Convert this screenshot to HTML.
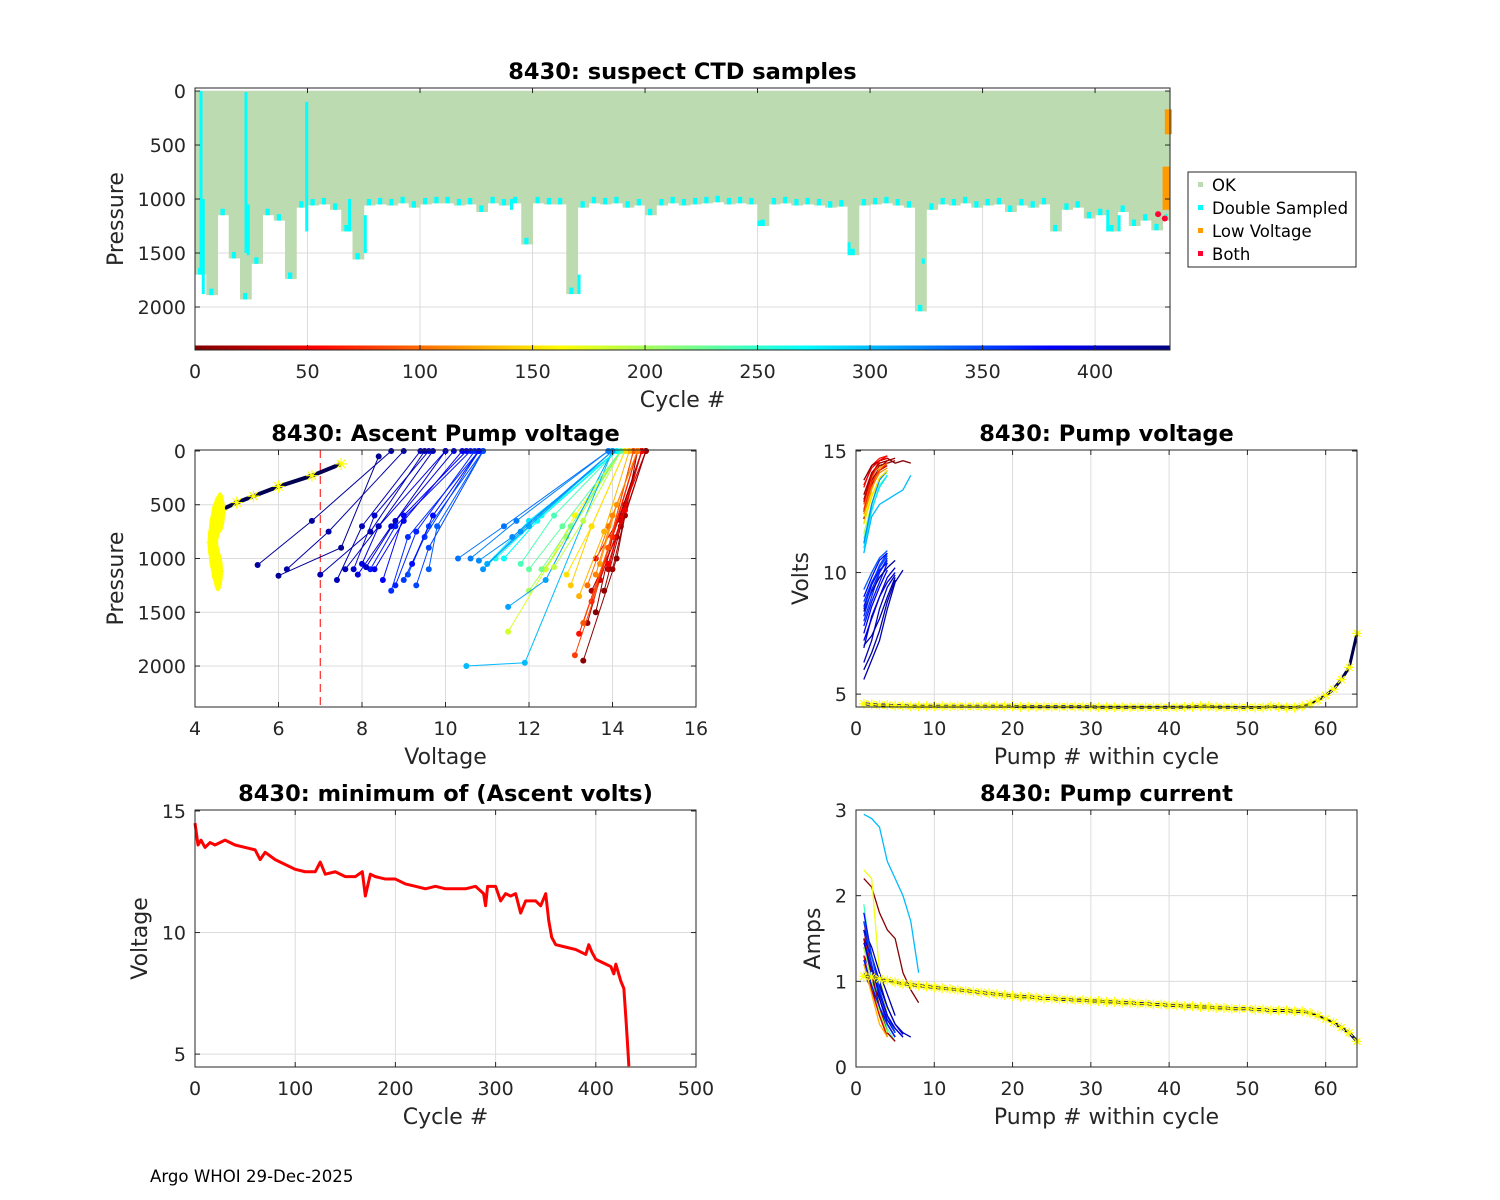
<!DOCTYPE html>
<html><head><meta charset="utf-8">
<style>
html,body{margin:0;padding:0;background:#fff;}
svg{display:block;font-family:"DejaVu Sans","Liberation Sans",sans-serif;}
.t{font-size:19px;fill:#262626;}
.ttl{font-size:22.5px;font-weight:bold;fill:#000;}
.lab{font-size:22px;fill:#262626;}
</style></head>
<body>
<svg id="fig" width="1500" height="1200" viewBox="0 0 1500 1200" xmlns="http://www.w3.org/2000/svg">
<text x="150" y="1182" font-size="16.6" fill="#000">Argo WHOI 29-Dec-2025</text>
</svg>
<script>
// ---------- DATA ----------
const topGroupDepth=[1700,1890,1150,1550,1930,1600,1150,1200,1740,1080,
 1060,1050,1100,1300,1560,1060,1050,1060,1040,1080,
 1050,1040,1040,1060,1050,1120,1040,1060,1040,1420,
 1040,1050,1050,1880,1080,1040,1050,1040,1080,1060,
 1150,1060,1040,1060,1050,1040,1030,1050,1040,1050,
 1250,1050,1040,1060,1050,1060,1080,1070,1520,1060,
 1050,1040,1060,1080,2040,1100,1050,1060,1040,1080,
 1060,1050,1120,1060,1080,1050,1300,1100,1080,1180,
 1150,1300,1120,1250,1200,1290,1200];
const dsCycles=[2,3,22,23,49,68,75,140,170,250,290,323,405,410];
const dsTop=[0,1000,10,1050,100,1000,1150,1000,1700,1200,1400,1550,1100,1150];
const dsBottom=[1700,1880,1500,1520,1300,1300,1500,1100,1880,1250,1520,1600,1300,1300];
const lvCycles=[430,431];
const lvTop=[700,170];
const lvBottom=[1100,400];
const bothCycles=[428,431];
const bothP=[1140,1180];
const topXTicks=[0,50,100,150,200,250,300,350,400];
const topYTicks=[0,500,1000,1500,2000];

const profCycle=[5,12,20,30,45,60,80,100,120,140,160,180,200,220,240,260,280,300,310,320,330,340,350,360,370,380,390,400,410,415,420,425,
 2,8,15,35,50,70,90,110,130,150,190,230,270,305,315,325,345,355,365,375,385,395,402,408,412];
const profV=[[13.3,14.1,14.6],[13.4,13.9,14.5],[13.5,14.1,14.7],[13.9,14.3,14.8],[13.6,14.2,14.7],[13.2,13.9,14.6],[13.1,13.7,14.5],[13.4,13.9,14.6],[13.7,14.1,14.6],[13.0,13.5,14.3],[12.4,13.1,14.2],[11.5,12.4,14.2],[12.0,12.9,14.2],[12.3,13.0,14.2],[11.8,12.6,14.1],[11.2,12.3,14.1],[11.0,12.0,14.1],[10.5,11.9,14.0],[11.5,12.4,14.0],[10.8,11.6,14.0],[10.3,11.4,13.9],[9.6,9.8,10.9],[9.3,9.6,10.9],[8.7,9.1,10.8],[8.2,8.8,10.6],[8.5,9.0,10.5],[8.0,8.4,10.0],[7.8,8.3,9.6],[7.4,8.0,9.4],[6.2,7.2,9.0],[5.5,6.8,8.7],[6.0,7.5,8.4],
 [13.6,14.0,14.7],[13.8,14.2,14.8],[14.0,14.3,14.8],[13.7,14.2,14.7],[13.9,14.3,14.7],[13.5,14.0,14.6],[13.3,13.9,14.5],[13.6,14.0,14.6],[13.2,13.8,14.4],[12.9,13.5,14.3],[12.6,13.3,14.2],[12.0,12.8,14.2],[11.4,12.2,14.1],[11.0,12.0,14.0],[10.9,11.8,14.0],[10.6,11.7,13.9],[9.1,9.6,10.9],[9.0,9.5,10.8],[8.8,9.3,10.7],[9.2,9.7,10.8],[8.3,9.0,10.4],[7.9,8.7,10.2],[8.1,8.8,10.0],[7.6,8.4,9.7],[7.0,8.2,9.5]];
const profP=[[1950,1000,0],[1600,900,0],[1300,800,0],[1100,500,0],[1000,600,0],[1700,900,0],[1900,1200,0],[1250,700,0],[1050,500,0],[1250,700,0],[1100,600,0],[1680,1100,0],[1300,800,0],[1100,700,0],[1050,600,0],[1000,600,0],[1050,650,0],[2000,1970,0],[1450,1200,0],[1020,800,0],[1000,700,0],[1100,700,0],[1250,900,0],[1300,800,0],[1100,700,0],[1200,600,0],[1050,700,0],[1100,600,0],[1200,700,0],[1100,750,0],[1060,650,0],[1160,900,50],
 [1500,800,0],[1300,700,0],[1100,600,0],[1200,650,0],[1050,550,0],[1400,800,0],[1600,900,0],[1150,600,0],[1350,750,0],[1150,700,0],[1080,650,0],[1100,700,0],[1000,650,0],[1050,700,0],[1100,750,0],[1000,650,0],[1150,700,0],[1200,800,0],[1250,750,0],[1050,600,0],[1100,650,0],[1150,700,0],[1080,650,0],[1100,700,0],[1150,750,0]];
const lastProfV=[4.55,4.5,4.45,4.42,4.45,4.5,4.55,4.6,4.62,5.0,5.4,6.0,6.8,7.5];
const lastProfP=[1120,1050,950,850,750,650,600,570,550,480,420,330,230,120];
const mlXTicks=[4,6,8,10,12,14,16];
const mlYTicks=[0,500,1000,1500,2000];
const voltLimit=7;

const pvCycle=[3,10,25,60,90,130,170,200,240,280,300,320,350,360,370,380,390,400,405,410,415,420,425,
 5,15,40,50,75,110,150,340,355,365,375,395];
const pvVals=[[13.0,14.0,14.4,14.5,14.6],[12.5,13.8,14.3,14.6,14.7],[12.2,13.6,14.2,14.4],[13.5,14.4,14.7,14.8],[12.8,13.9,14.5,14.6],[12.0,13.4,14.3,14.5],[12.3,13.2,13.8,14.2],[11.6,12.8,13.9,14.1],[11.4,12.5,13.6,14.0],[11.0,12.6,13.5,14.0],[10.8,12.3,12.8,13.0,13.2,13.4,14.0],[11.2,12.8,13.8,14.2],[8.5,9.5,10.3,10.8],[8.0,9.0,10.0,10.6],[7.8,8.8,9.6,10.4],[9.0,9.8,10.5,10.8],[7.5,8.6,9.4,10.1],[6.9,8.2,9.0,9.6,10.0],[6.3,7.2,8.5,9.4,9.9],[5.6,6.4,7.2,8.5,9.6,10.1],[7.0,7.4,8.1,9.0,9.8],[6.0,6.7,7.6,8.8,9.7],[8.4,9.2,9.8,10.2,10.5],
 [13.8,14.4,14.6,14.7,14.5,14.6,14.5],[13.2,14.1,14.5,14.6],[12.9,14.0,14.6,14.7],[13.6,14.3,14.6,14.8],[12.6,13.7,14.2,14.5],[12.4,13.5,14.1,14.3],[12.0,13.1,13.9,14.2],[9.3,10.0,10.6,10.9],[8.8,9.6,10.2,10.7],[8.2,9.3,10.0,10.5],[8.6,9.5,10.1,10.4],[7.2,8.1,9.0,9.8,10.2]];
const lastVolts=[4.6,4.58,4.55,4.55,4.52,4.52,4.5,4.5,4.5,4.5,4.5,4.5,4.5,4.5,4.5,4.5,4.5,4.5,4.5,4.5,4.48,4.48,4.48,4.48,4.48,4.48,4.48,4.48,4.48,4.48,4.46,4.46,4.46,4.46,4.46,4.46,4.46,4.46,4.46,4.46,4.46,4.47,4.48,4.5,4.5,4.47,4.46,4.46,4.45,4.45,4.45,4.45,4.5,4.47,4.45,4.45,4.5,4.6,4.75,4.95,5.2,5.6,6.1,7.5];
const mrXTicks=[0,10,20,30,40,50,60];
const mrYTicks=[5,10,15];

const minCycle=[0,3,6,10,15,20,30,40,50,60,65,70,80,90,100,110,120,125,128,130,140,150,160,167,170,175,180,190,200,210,220,230,240,250,260,270,280,288,290,292,300,305,310,315,320,325,330,340,345,350,353,356,360,370,380,390,393,396,400,405,410,415,418,420,425,428,430,432,433];
const minVolt=[14.5,13.6,13.8,13.5,13.7,13.6,13.8,13.6,13.5,13.4,13.0,13.3,13.0,12.8,12.6,12.5,12.5,12.9,12.6,12.4,12.5,12.3,12.3,12.5,11.5,12.4,12.3,12.2,12.2,12.0,11.9,11.8,11.9,11.8,11.8,11.8,11.9,11.6,11.1,11.9,11.9,11.3,11.6,11.5,11.6,10.8,11.3,11.3,11.1,11.6,10.5,9.8,9.5,9.4,9.3,9.1,9.5,9.2,8.9,8.8,8.7,8.6,8.3,8.7,8.0,7.7,6.5,5.2,4.5];
const blXTicks=[0,100,200,300,400,500];
const blYTicks=[5,10,15];

const pcCycle=[3,20,60,100,170,240,300,320,360,380,390,400,405,410,415,420,10,40,130,200,350,370,395];
const pcVals=[[2.2,2.1,1.8,1.6,1.5,1.1,0.9,0.75],[1.7,1.2,0.8,0.5,0.35],[1.6,1.1,0.6,0.4,0.3],[1.4,1.0,0.6,0.35],[2.3,2.2,1.1,0.6,0.4],[1.9,1.2,0.7,0.45,0.3],[2.95,2.9,2.8,2.4,2.2,2.0,1.7,1.1],[1.5,1.0,0.7,0.4],[1.6,1.2,0.8,0.5,0.35],[1.8,1.3,0.9,0.6,0.4],[1.5,1.3,1.0,0.7,0.5,0.38],[1.4,1.1,0.9,0.6,0.45,0.35],[1.2,1.0,0.8,0.55,0.4],[1.3,1.1,0.95,0.7,0.5,0.4,0.35],[1.6,1.4,1.1,0.85,0.6],[1.1,0.9,0.7,0.5,0.35],
 [1.5,1.1,0.7,0.4,0.3],[1.3,0.9,0.6,0.35],[1.2,0.85,0.5,0.35],[1.4,1.0,0.65,0.4],[1.7,1.3,0.9,0.6,0.4],[1.25,0.95,0.7,0.5,0.35],[1.45,1.15,0.85,0.6,0.45,0.35]];
const lastCurrent=[1.06,1.05,1.03,1.01,0.99,0.97,0.96,0.95,0.94,0.93,0.92,0.91,0.9,0.89,0.88,0.87,0.86,0.85,0.84,0.83,0.82,0.82,0.81,0.8,0.8,0.79,0.79,0.78,0.78,0.77,0.77,0.76,0.76,0.75,0.75,0.74,0.74,0.73,0.73,0.72,0.72,0.71,0.71,0.7,0.7,0.69,0.69,0.68,0.68,0.68,0.67,0.67,0.66,0.66,0.66,0.65,0.65,0.63,0.6,0.56,0.52,0.46,0.4,0.3];
const brXTicks=[0,10,20,30,40,50,60];
const brYTicks=[0,1,2,3];

// ---------- HELPERS ----------
const svg=document.getElementById('fig');
const NS='http://www.w3.org/2000/svg';
function mk(tag,attrs,parent){const e=document.createElementNS(NS,tag);for(const k in attrs)e.setAttribute(k,attrs[k]);(parent||svg).appendChild(e);return e;}
function jet(t){t=Math.max(0,Math.min(1,t));const r=Math.min(4*t-1.5,-4*t+4.5),g=Math.min(4*t-0.5,-4*t+3.5),b=Math.min(4*t+0.5,-4*t+2.5);const c=v=>Math.round(255*Math.max(0,Math.min(1,v)));return `rgb(${c(r)},${c(g)},${c(b)})`;}
const MAXC=433;
function cyc(c){return jet(1-c/MAXC);}
function axes(name,x0,y0,w,h,xmin,xmax,ymin,ymax,rev){
  const g=mk('g',{});
  
  
  const sx=v=>x0+(v-xmin)/(xmax-xmin)*w;
  const sy=rev?(v=>y0+(v-ymin)/(ymax-ymin)*h):(v=>y0+h-(v-ymin)/(ymax-ymin)*h);
  return {g,sx,sy,x0,y0,w,h};
}
function frame(A,xt,yt,xlab,ylab,title,nameBase){
  const {g,sx,sy,x0,y0,w,h}=A;
  xt.forEach(v=>{const x=sx(v);if(x>x0+1&&x<x0+w-1)mk('line',{x1:x,y1:y0,x2:x,y2:y0+h,stroke:'#dcdcdc','stroke-width':1},g);});
  yt.forEach(v=>{const y=sy(v);if(y>y0+1&&y<y0+h-1)mk('line',{x1:x0,y1:y,x2:x0+w,y2:y,stroke:'#dcdcdc','stroke-width':1},g);});
  return function(){
    const f=mk('g',{});
    
    
    mk('rect',{x:x0,y:y0,width:w,height:h,fill:'none',stroke:'#262626','stroke-width':1},f);
    xt.forEach(v=>{const x=sx(v);mk('line',{x1:x,y1:y0+h,x2:x,y2:y0+h-5,stroke:'#262626'},f);mk('line',{x1:x,y1:y0,x2:x,y2:y0+5,stroke:'#262626'},f);
      const t=mk('text',{x:x,y:y0+h+28,'text-anchor':'middle',class:'t'},f);t.textContent=v;
      
      });
    yt.forEach(v=>{const y=sy(v);mk('line',{x1:x0,y1:y,x2:x0+5,y2:y,stroke:'#262626'},f);mk('line',{x1:x0+w,y1:y,x2:x0+w-5,y2:y,stroke:'#262626'},f);
      const t=mk('text',{x:x0-9,y:y+7,'text-anchor':'end',class:'t'},f);t.textContent=v;
      
      });
    const xl=mk('text',{x:x0+w/2,y:y0+h+57,'text-anchor':'middle',class:'lab'},f);xl.textContent=xlab;
    
    
    const ylx=x0-(String(yt[yt.length-1]).length*12+24);
    const yl=mk('text',{x:ylx,y:y0+h/2,'text-anchor':'middle',class:'lab',transform:`rotate(-90 ${ylx} ${y0+h/2})`},f);yl.textContent=ylab;
    
    
    const tt=mk('text',{x:x0+w/2,y:y0-9,'text-anchor':'middle',class:'ttl'},f);tt.textContent=title;
    
    
  };
}
function star(g,x,y,col,s){s=s||5;mk('path',{d:`M${x-s},${y}H${x+s}M${x},${y-s}V${y+s}M${x-s*0.7},${y-s*0.7}L${x+s*0.7},${y+s*0.7}M${x-s*0.7},${y+s*0.7}L${x+s*0.7},${y-s*0.7}`,stroke:col,'stroke-width':1.2,fill:'none'},g);}

// ---------- TOP PANEL ----------
(function(){
  const A=axes('ctd-samples-plot',195,88,975,262,0,433.3,-28,2398,true);
  const fin=frame(A,topXTicks,topYTicks,'Cycle #','Pressure','8430: suspect CTD samples','ctd');
  const {g,sx,sy}=A;
  topGroupDepth.forEach((d,i)=>{
    const c0=i*5,c1=Math.min(i*5+5,433.3);
    const r=mk('rect',{x:sx(c0),y:sy(0),width:sx(c1)-sx(c0)+0.5,height:sy(d)-sy(0),fill:'#bddbb0'},g);
    
    
    const cr=mk('rect',{x:sx(c0)+3,y:sy(d-60),width:Math.max(2,sx(c1)-sx(c0)-7),height:sy(d)-sy(d-60),fill:'#00ffff'},g);
    
    
  });
  dsCycles.forEach((c,i)=>{
    const r=mk('rect',{x:sx(c),y:sy(dsTop[i]),width:3,height:sy(dsBottom[i])-sy(dsTop[i]),fill:'#00ffff'},g);
    
    
  });
  lvCycles.forEach((c,i)=>{
    const r=mk('rect',{x:sx(c),y:sy(lvTop[i]),width:7,height:sy(lvBottom[i])-sy(lvTop[i]),fill:'#ff9a00'},g);
    
    
  });
  bothCycles.forEach((c,i)=>{
    const r=mk('circle',{cx:sx(c),cy:sy(bothP[i]),r:3,fill:'#ff0033'},g);
    
    
  });
  for(let c=0;c<433;c+=1){mk('line',{x1:sx(c),y1:348,x2:sx(c+1.2),y2:348,stroke:cyc(c),'stroke-width':5},g);}
  fin();
  const L=mk('g',{});
  
  
  mk('rect',{x:1188,y:172,width:168,height:95,fill:'#fff',stroke:'#262626'},L);
  [['OK','#bddbb0'],['Double Sampled','#00ffff'],['Low Voltage','#ff9a00'],['Both','#ff0033']].forEach((e,i)=>{
    const y=185+i*23;
    const eg=mk('g',{},L);
    
    
    mk('rect',{x:1198,y:y-3,width:5,height:5,fill:e[1]},eg);
    const t=mk('text',{x:1212,y:y+6,'font-size':'16.5px',fill:'#000'},eg);t.textContent=e[0];
  });
})();

// ---------- MIDDLE LEFT ----------
(function(){
  const A=axes('ascent-voltage-plot',195,450,501,257,4,16,-9,2381,true);
  const fin=frame(A,mlXTicks,mlYTicks,'Voltage','Pressure','8430: Ascent Pump voltage','ascent');
  const {g,sx,sy}=A;
  mk('line',{x1:sx(voltLimit),y1:450,x2:sx(voltLimit),y2:707,stroke:'#ff0000','stroke-dasharray':'8,5','stroke-width':1},g);
  profCycle.forEach((c,i)=>{
    const col=cyc(c);
    const pts=profV[i].map((v,j)=>sx(v)+','+sy(profP[i][j])).join(' ');
    const pl=mk('polyline',{points:pts,fill:'none',stroke:col,'stroke-width':1},g);
    
    
    profV[i].forEach((v,j)=>{mk('circle',{cx:sx(v),cy:sy(profP[i][j]),r:3,fill:col},g);});
  });
  const lp=mk('polyline',{points:lastProfV.map((v,j)=>sx(v)+','+sy(lastProfP[j])).join(' '),fill:'none',stroke:'#000050','stroke-width':4},g);
  
  
  lastProfV.forEach((v,j)=>{if(j<8){mk('ellipse',{cx:sx(v),cy:sy(lastProfP[j]),rx:5,ry:20,fill:'#ffff00'},g);}star(g,sx(v),sy(lastProfP[j]),'#ffff00',6);});
  fin();
})();

// ---------- MIDDLE RIGHT ----------
(function(){
  const A=axes('pump-voltage-plot',856,450,501,257,0,64,4.47,15.04,false);
  const fin=frame(A,mrXTicks,mrYTicks,'Pump # within cycle','Volts','8430: Pump voltage','pumpv');
  const {g,sx,sy}=A;
  pvCycle.forEach((c,i)=>{
    const pl=mk('polyline',{points:pvVals[i].map((v,j)=>sx(j+1)+','+sy(v)).join(' '),fill:'none',stroke:cyc(c),'stroke-width':1.3},g);
    
    
  });
  const lp=mk('polyline',{points:lastVolts.map((v,j)=>sx(j+1)+','+sy(v)).join(' '),fill:'none',stroke:'#000050','stroke-width':3},g);
  
  
  lastVolts.forEach((v,j)=>star(g,sx(j+1),sy(v),'#ffff00',5));
  fin();
})();

// ---------- BOTTOM LEFT ----------
(function(){
  const A=axes('min-voltage-plot',195,810,501,257,0,500,4.47,15.04,false);
  const fin=frame(A,blXTicks,blYTicks,'Cycle #','Voltage','8430: minimum of (Ascent volts)','minv');
  const {g,sx,sy}=A;
  const pl=mk('polyline',{points:minCycle.map((c,j)=>sx(c)+','+sy(minVolt[j])).join(' '),fill:'none',stroke:'#ff0000','stroke-width':3,'stroke-linejoin':'round'},g);
  
  
  fin();
})();

// ---------- BOTTOM RIGHT ----------
(function(){
  const A=axes('pump-current-plot',856,810,501,257,0,64,0,3,false);
  const fin=frame(A,brXTicks,brYTicks,'Pump # within cycle','Amps','8430: Pump current','pumpc');
  const {g,sx,sy}=A;
  pcCycle.forEach((c,i)=>{
    const pl=mk('polyline',{points:pcVals[i].map((v,j)=>sx(j+1)+','+sy(v)).join(' '),fill:'none',stroke:cyc(c),'stroke-width':1.3},g);
    
    
  });
  const lp=mk('polyline',{points:lastCurrent.map((v,j)=>sx(j+1)+','+sy(v)).join(' '),fill:'none',stroke:'#000050','stroke-width':3},g);
  
  
  lastCurrent.forEach((v,j)=>star(g,sx(j+1),sy(v),'#ffff00',5));
  fin();
})();
</script>
</body></html>
